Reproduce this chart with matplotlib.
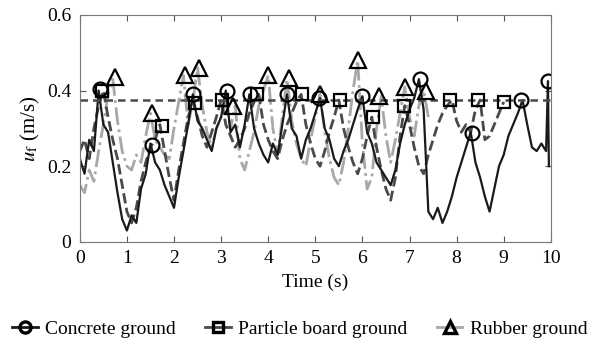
import numpy as np
import matplotlib
matplotlib.use("Agg")
import matplotlib.pyplot as plt

plt.rcParams["font.family"] = ["Liberation Serif", "DejaVu Serif"]
plt.rcParams["mathtext.fontset"] = "stix"

# velocity traces, one sample every 0.1 s
concrete = [0.22, 0.18, 0.27, 0.24, 0.40, 0.31, 0.29, 0.21, 0.13, 0.06,
            0.03, 0.07, 0.05, 0.14, 0.18, 0.26, 0.21, 0.19, 0.15, 0.12,
            0.09, 0.17, 0.24, 0.31, 0.39, 0.32, 0.30, 0.27, 0.24, 0.30,
            0.33, 0.40, 0.29, 0.31, 0.25, 0.31, 0.39, 0.30, 0.26, 0.23,
            0.21, 0.26, 0.23, 0.31, 0.39, 0.30, 0.28, 0.22, 0.27, 0.30,
            0.34, 0.38, 0.30, 0.27, 0.22, 0.20, 0.24, 0.27, 0.31, 0.35,
            0.385, 0.29, 0.26, 0.21, 0.19, 0.17, 0.15, 0.19, 0.26, 0.31,
            0.35, 0.38, 0.43, 0.35, 0.08, 0.06, 0.09, 0.05, 0.08, 0.12,
            0.17, 0.21, 0.25, 0.29, 0.21, 0.17, 0.12, 0.08, 0.14, 0.20,
            0.23, 0.28, 0.31, 0.34, 0.375, 0.31, 0.25, 0.24, 0.26, 0.24]
concrete_end_t = [9.94, 9.95, 9.96]
concrete_end_v = [0.425, 0.30, 0.20]

board = [0.24, 0.27, 0.22, 0.30, 0.36, 0.40, 0.33, 0.27, 0.22, 0.15,
         0.08, 0.05, 0.09, 0.16, 0.21, 0.25, 0.27, 0.31, 0.24, 0.17,
         0.11, 0.19, 0.26, 0.33, 0.37, 0.33, 0.28, 0.25, 0.29, 0.33,
         0.375, 0.31, 0.28, 0.25, 0.27, 0.30, 0.34, 0.37, 0.39, 0.31,
         0.27, 0.24, 0.22, 0.27, 0.31, 0.34, 0.37, 0.39, 0.31, 0.26,
         0.22, 0.20, 0.24, 0.29, 0.33, 0.375, 0.30, 0.25, 0.21, 0.18,
         0.22, 0.28, 0.33, 0.25, 0.19, 0.14, 0.11, 0.17, 0.28, 0.36,
         0.31, 0.25, 0.20, 0.18, 0.23, 0.27, 0.31, 0.34, 0.36, 0.375,
         0.32, 0.29, 0.31, 0.29, 0.35, 0.375, 0.27, 0.28, 0.31, 0.34,
         0.37]

rubber = [0.15, 0.13, 0.19, 0.16, 0.24, 0.31, 0.39, 0.43, 0.32, 0.24,
          0.20, 0.19, 0.23, 0.21, 0.28, 0.34, 0.27, 0.25, 0.23, 0.22,
          0.30, 0.37, 0.44, 0.31, 0.37, 0.46, 0.36, 0.29, 0.25, 0.30,
          0.33, 0.37, 0.30, 0.36, 0.22, 0.19, 0.24, 0.29, 0.36, 0.40,
          0.44, 0.30, 0.23, 0.33, 0.43, 0.32, 0.26, 0.22, 0.20, 0.27,
          0.33, 0.39, 0.29, 0.22, 0.17, 0.15, 0.21, 0.30, 0.40, 0.48,
          0.26, 0.14, 0.17, 0.30, 0.385, 0.28, 0.21, 0.27, 0.34, 0.41,
          0.33, 0.28, 0.36, 0.40, 0.33]

# peak markers
concrete_pk_t = [0.43, 1.53, 2.41, 3.12, 3.62, 4.40, 5.07, 6.00, 7.23, 8.32, 9.36, 9.94]
concrete_pk_v = [0.405, 0.257, 0.39, 0.40, 0.39, 0.39, 0.38, 0.385, 0.43, 0.288, 0.375, 0.425]
board_pk_t = [0.47, 1.74, 2.45, 3.02, 3.76, 4.72, 5.53, 6.23, 6.88, 7.87, 8.45, 9.00]
board_pk_v = [0.40, 0.307, 0.367, 0.375, 0.39, 0.39, 0.375, 0.33, 0.36, 0.375, 0.375, 0.37]
rubber_pk_t = [0.74, 1.54, 2.23, 2.54, 3.26, 4.00, 4.45, 5.10, 5.90, 6.35, 6.90, 7.36]
rubber_pk_v = [0.435, 0.34, 0.44, 0.46, 0.36, 0.44, 0.434, 0.39, 0.48, 0.385, 0.41, 0.40]
mean_level = 0.375

t_concrete = np.round(np.arange(len(concrete)) * 0.1, 2).tolist() + concrete_end_t
v_concrete = concrete + concrete_end_v
t_board = np.round(np.arange(len(board)) * 0.1, 2)
t_rubber = np.round(np.arange(len(rubber)) * 0.1, 2)

fig = plt.figure(figsize=(6, 3.47), dpi=100)
ax = fig.add_axes([0.133, 0.303, 0.785, 0.654])

c_col, b_col, r_col = "#1a1a1a", "#4a4a4a", "#a8a8a8"
ax.plot(t_rubber, rubber, color=r_col, lw=2.0, ls="-.")
ax.plot(t_board, board, color=b_col, lw=2.0, ls="--")
ax.plot(t_concrete, v_concrete, color=c_col, lw=1.6, ls="-")
ax.axhline(mean_level, color=b_col, lw=1.8, ls=(0, (3, 2)))

mk = dict(ls="none", mfc="none", mec="black", mew=1.6)
ax.plot(concrete_pk_t, concrete_pk_v, marker="o", ms=10, **mk)
ax.plot(board_pk_t, board_pk_v, marker="s", ms=9, **mk)
ax.plot(rubber_pk_t, rubber_pk_v, marker="^", ms=12, **mk)

ax.set_xlim(0, 10)
ax.set_ylim(0, 0.6)
ax.set_xticks(range(0, 11))
ax.set_yticks([0, 0.2, 0.4, 0.6])
ax.set_yticklabels(["0", "0.2", "0.4", "0.6"])
ax.tick_params(direction="in", top=True, right=True, labelsize=14, length=4,
               color="#555555", pad=6)
for s in ax.spines.values():
    s.set_color("#777777")
    s.set_linewidth(0.8)
ax.set_xlabel("Time (s)", fontsize=14, labelpad=5)
ax.set_ylabel(r"$u_\mathrm{f}$ (m/s)", fontsize=15)

# legend proxies
h1, = ax.plot([], [], color=c_col, lw=2, marker="o", ms=8, mfc="none", mec="black", mew=2.4)
h2, = ax.plot([], [], color=b_col, lw=2, ls="-", marker="s", ms=7, mfc="none", mec="black", mew=2.4)
h3, = ax.plot([], [], color=r_col, lw=2, ls="-", marker="^", ms=8, mfc="none", mec="black", mew=2.4)
fig.legend([h1, h2, h3], ["Concrete ground", "Particle board ground", "Rubber ground"],
           loc="center", bbox_to_anchor=(0.5, 0.052), ncol=3, frameon=False,
           fontsize=14, handlelength=1.3, handletextpad=0.4, columnspacing=1.5)

fig.savefig("out.png", dpi=100)
